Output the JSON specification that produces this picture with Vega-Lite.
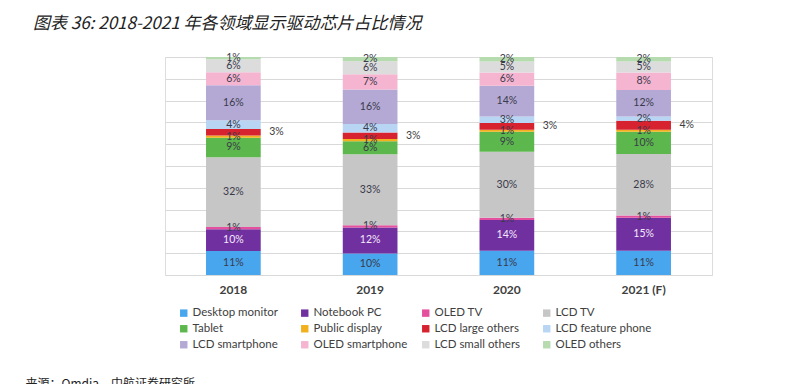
{
  "$schema": "https://vega.github.io/schema/vega-lite/v6.json",
  "width": 547,
  "height": 218,
  "autosize": "none",
  "padding": {"left": 165, "top": 57, "right": 100, "bottom": 109},
  "background": "white",
  "title": {
    "text": "图表 36: 2018-2021 年各领域显示驱动芯片占比情况",
    "anchor": "start",
    "frame": "group",
    "dx": -132,
    "offset": 20,
    "font": "Noto Sans CJK SC",
    "fontStyle": "italic",
    "fontWeight": "normal",
    "fontSize": 17,
    "color": "#222222"
  },
  "data": {
    "values": [
      {"year": "2018", "cat": "Desktop monitor", "ord": 0, "v": 11},
      {"year": "2018", "cat": "Notebook PC", "ord": 1, "v": 10},
      {"year": "2018", "cat": "OLED TV", "ord": 2, "v": 1},
      {"year": "2018", "cat": "LCD TV", "ord": 3, "v": 32},
      {"year": "2018", "cat": "Tablet", "ord": 4, "v": 9},
      {"year": "2018", "cat": "Public display", "ord": 5, "v": 1},
      {"year": "2018", "cat": "LCD large others", "ord": 6, "v": 3},
      {"year": "2018", "cat": "LCD feature phone", "ord": 7, "v": 4},
      {"year": "2018", "cat": "LCD smartphone", "ord": 8, "v": 16},
      {"year": "2018", "cat": "OLED smartphone", "ord": 9, "v": 6},
      {"year": "2018", "cat": "LCD small others", "ord": 10, "v": 6},
      {"year": "2018", "cat": "OLED others", "ord": 11, "v": 1},
      {"year": "2019", "cat": "Desktop monitor", "ord": 0, "v": 10},
      {"year": "2019", "cat": "Notebook PC", "ord": 1, "v": 12},
      {"year": "2019", "cat": "OLED TV", "ord": 2, "v": 1},
      {"year": "2019", "cat": "LCD TV", "ord": 3, "v": 33},
      {"year": "2019", "cat": "Tablet", "ord": 4, "v": 6},
      {"year": "2019", "cat": "Public display", "ord": 5, "v": 1},
      {"year": "2019", "cat": "LCD large others", "ord": 6, "v": 3},
      {"year": "2019", "cat": "LCD feature phone", "ord": 7, "v": 4},
      {"year": "2019", "cat": "LCD smartphone", "ord": 8, "v": 16},
      {"year": "2019", "cat": "OLED smartphone", "ord": 9, "v": 7},
      {"year": "2019", "cat": "LCD small others", "ord": 10, "v": 6},
      {"year": "2019", "cat": "OLED others", "ord": 11, "v": 2},
      {"year": "2020", "cat": "Desktop monitor", "ord": 0, "v": 11},
      {"year": "2020", "cat": "Notebook PC", "ord": 1, "v": 14},
      {"year": "2020", "cat": "OLED TV", "ord": 2, "v": 1},
      {"year": "2020", "cat": "LCD TV", "ord": 3, "v": 30},
      {"year": "2020", "cat": "Tablet", "ord": 4, "v": 9},
      {"year": "2020", "cat": "Public display", "ord": 5, "v": 1},
      {"year": "2020", "cat": "LCD large others", "ord": 6, "v": 3},
      {"year": "2020", "cat": "LCD feature phone", "ord": 7, "v": 3},
      {"year": "2020", "cat": "LCD smartphone", "ord": 8, "v": 14},
      {"year": "2020", "cat": "OLED smartphone", "ord": 9, "v": 6},
      {"year": "2020", "cat": "LCD small others", "ord": 10, "v": 5},
      {"year": "2020", "cat": "OLED others", "ord": 11, "v": 2},
      {"year": "2021 (F)", "cat": "Desktop monitor", "ord": 0, "v": 11},
      {"year": "2021 (F)", "cat": "Notebook PC", "ord": 1, "v": 15},
      {"year": "2021 (F)", "cat": "OLED TV", "ord": 2, "v": 1},
      {"year": "2021 (F)", "cat": "LCD TV", "ord": 3, "v": 28},
      {"year": "2021 (F)", "cat": "Tablet", "ord": 4, "v": 10},
      {"year": "2021 (F)", "cat": "Public display", "ord": 5, "v": 1},
      {"year": "2021 (F)", "cat": "LCD large others", "ord": 6, "v": 4},
      {"year": "2021 (F)", "cat": "LCD feature phone", "ord": 7, "v": 2},
      {"year": "2021 (F)", "cat": "LCD smartphone", "ord": 8, "v": 12},
      {"year": "2021 (F)", "cat": "OLED smartphone", "ord": 9, "v": 8},
      {"year": "2021 (F)", "cat": "LCD small others", "ord": 10, "v": 5},
      {"year": "2021 (F)", "cat": "OLED others", "ord": 11, "v": 2}
    ]
  },
  "encoding": {
    "x": {
      "field": "year",
      "type": "nominal",
      "scale": {"paddingInner": 0.6, "paddingOuter": 0.3},
      "axis": {
        "labelAngle": 0,
        "domain": false,
        "ticks": false,
        "labelPadding": 9,
        "labelFont": "Lato",
        "labelFontSize": 12,
        "labelFontWeight": "bold",
        "labelColor": "#404040",
        "title": "来源：Omdia，中航证券研究所",
        "titleFont": "Noto Sans CJK SC",
        "titleFontSize": 12,
        "titleFontWeight": "normal",
        "titleColor": "#222222",
        "titleAnchor": "start",
        "titleAlign": "left",
        "titleBaseline": "middle",
        "titleX": -140,
        "titleY": 108
      }
    },
    "y": {
      "field": "v",
      "type": "quantitative",
      "stack": "normalize",
      "scale": {"domain": [0, 1], "nice": false},
      "axis": {
        "labels": false,
        "ticks": false,
        "domain": false,
        "title": null,
        "grid": true,
        "gridColor": "#D9D9D9",
        "values": [0, 0.1, 0.2, 0.3, 0.4, 0.5, 0.6, 0.7, 0.8, 0.9, 1]
      }
    },
    "order": {"field": "ord", "type": "quantitative"}
  },
  "layer": [
    {
      "mark": {"type": "bar"},
      "encoding": {
        "color": {
          "field": "cat",
          "type": "nominal",
          "scale": {
            "domain": ["Desktop monitor", "Notebook PC", "OLED TV", "LCD TV", "Tablet", "Public display", "LCD large others", "LCD feature phone", "LCD smartphone", "OLED smartphone", "LCD small others", "OLED others"],
            "range": ["#47A6EE", "#7030A0", "#E5509E", "#C6C6C6", "#5CB84C", "#F2B01E", "#D6232F", "#B8D5F3", "#B3A9D4", "#F5B5D1", "#DCDCDC", "#B5DBAE"]
          },
          "sort": null,
          "legend": {
            "title": null,
            "orient": "none",
            "legendX": 13,
            "legendY": 250,
            "direction": "horizontal",
            "columns": 4,
            "gridAlign": "all",
            "symbolType": "square",
            "symbolSize": 55,
            "symbolStrokeWidth": 0,
            "symbolOffset": 0,
            "labelFont": "Lato",
            "labelFontSize": 11.5,
            "labelColor": "#404040",
            "labelOffset": 3,
            "labelLimit": 200,
            "columnPadding": 10,
            "rowPadding": 3
          }
        }
      }
    },
    {
      "mark": {"type": "text", "font": "Lato", "fontSize": 10.5, "text": {"expr": "datum.v + '%'"}},
      "encoding": {
        "y": {"field": "v", "type": "quantitative", "stack": "normalize", "bandPosition": 0.5},
        "opacity": {"condition": {"test": "datum.cat === 'LCD large others'", "value": 0}, "value": 1},
        "color": {
          "condition": {"test": "datum.cat === 'Notebook PC'", "value": "#F4E8FA"},
          "value": "#3A3A4A"
        }
      }
    },
    {
      "mark": {"type": "text", "font": "Lato", "fontSize": 10.5, "dx": 43, "color": "#404040", "text": {"expr": "datum.v + '%'"}},
      "encoding": {
        "y": {"field": "v", "type": "quantitative", "stack": "normalize", "bandPosition": 0.5},
        "opacity": {"condition": {"test": "datum.cat === 'LCD large others'", "value": 1}, "value": 0}
      }
    }
  ]
}
